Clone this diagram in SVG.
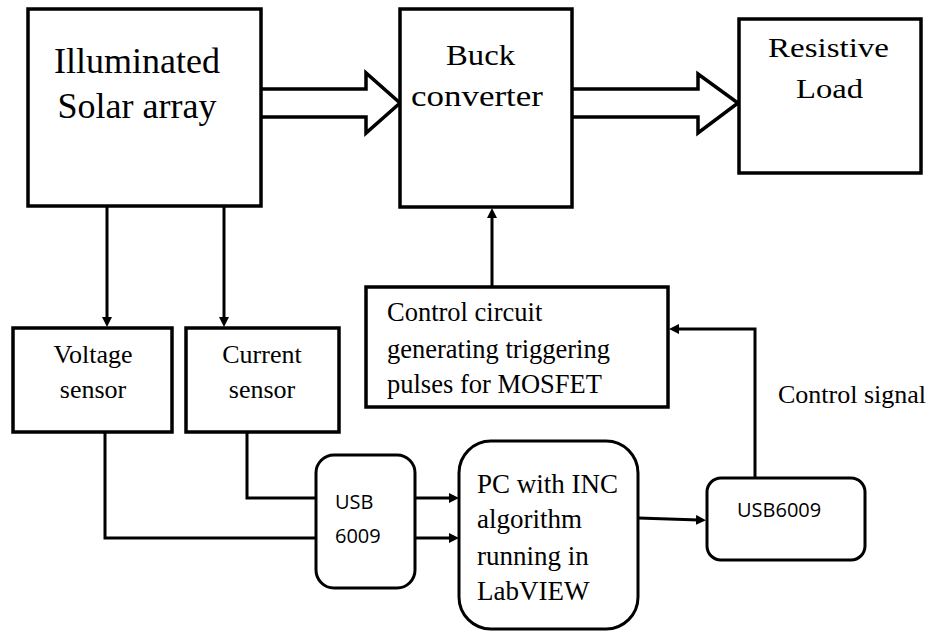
<svg xmlns="http://www.w3.org/2000/svg" width="933" height="632" viewBox="0 0 933 632">
<style>
.box{fill:#fff;stroke:#000;stroke-width:3.5}
.rbox{fill:#fff;stroke:#000;stroke-width:3}
.hollow{fill:#fff;stroke:#000;stroke-width:3.5;stroke-linejoin:miter}
.conn{fill:none;stroke:#000;stroke-width:3}
.serif{font-family:"Liberation Serif","Times New Roman",serif;fill:#000}
.sans{font-family:"Open Sans","Liberation Sans",sans-serif;fill:#000}
</style>
<defs>
<marker id="ah" markerUnits="userSpaceOnUse" markerWidth="10" markerHeight="10" refX="3" refY="5" orient="auto">
<path d="M0,0 L10,5 L0,10 Z" fill="#000"/>
</marker>
</defs>
<rect width="933" height="632" fill="#fff"/>
<g id="connectors">
<path class="hollow" d="M261,89 H366 V73 L400,103 L366,133 V117 H261"/>
<path class="hollow" d="M572,89 H698 V74 L738,103 L698,133 V117 H572"/>
<path class="conn" d="M107,206 V320" marker-end="url(#ah)"/>
<path class="conn" d="M224,206 V320" marker-end="url(#ah)"/>
<path class="conn" d="M492,287 V215" marker-end="url(#ah)"/>
<path class="conn" d="M755,478 V329 H676" marker-end="url(#ah)"/>
<path class="conn" d="M105,432 V538 H316"/>
<path class="conn" d="M247,432 V498 H316"/>
<path class="conn" d="M415,498 H452" marker-end="url(#ah)"/>
<path class="conn" d="M415,538 H452" marker-end="url(#ah)"/>
<path class="conn" d="M638,518 L699,520" marker-end="url(#ah)"/>
</g>
<g id="solar">
<rect class="box" x="28" y="9" width="233" height="197"/>
<text class="serif" font-size="36" x="137" y="73" text-anchor="middle">Illuminated</text>
<text class="serif" font-size="36" x="137" y="118" text-anchor="middle">Solar array</text>
</g>
<g id="buck">
<rect class="box" x="400" y="9" width="172" height="198"/>
<text class="serif" font-size="29" x="446" y="65" textLength="69" lengthAdjust="spacingAndGlyphs">Buck</text>
<text class="serif" font-size="29" x="411" y="106" textLength="132" lengthAdjust="spacingAndGlyphs">converter</text>
</g>
<g id="load">
<rect class="box" x="739" y="19" width="182" height="154"/>
<text class="serif" font-size="28" x="768" y="57" textLength="121" lengthAdjust="spacingAndGlyphs">Resistive</text>
<text class="serif" font-size="28" x="796" y="98" textLength="67" lengthAdjust="spacingAndGlyphs">Load</text>
</g>
<g id="voltage">
<rect class="box" x="13" y="328" width="159" height="104"/>
<text class="serif" font-size="26" x="93" y="363" text-anchor="middle">Voltage</text>
<text class="serif" font-size="26" x="93" y="398" text-anchor="middle">sensor</text>
</g>
<g id="current">
<rect class="box" x="186" y="328" width="153" height="104"/>
<text class="serif" font-size="26" x="262" y="363" text-anchor="middle">Current</text>
<text class="serif" font-size="26" x="262" y="398" text-anchor="middle">sensor</text>
</g>
<g id="control">
<rect class="box" x="366" y="287" width="302" height="120"/>
<text class="serif" font-size="26.5" x="387" y="321">Control circuit</text>
<text class="serif" font-size="26.5" x="387" y="358">generating triggering</text>
<text class="serif" font-size="26.5" x="387" y="393">pulses for MOSFET</text>
</g>
<g id="usb1">
<rect class="rbox" x="316" y="455" width="99" height="133" rx="18"/>
<text class="sans" font-size="20" x="335" y="509">USB</text>
<text class="sans" font-size="20" x="335" y="543">6009</text>
</g>
<g id="pc">
<rect class="rbox" x="459" y="441" width="179" height="188" rx="32"/>
<text class="serif" font-size="27" x="477" y="493">PC with INC</text>
<text class="serif" font-size="27" x="477" y="528">algorithm</text>
<text class="serif" font-size="27" x="477" y="565">running in</text>
<text class="serif" font-size="27" x="477" y="600">LabVIEW</text>
</g>
<g id="usb2">
<rect class="rbox" x="707" y="478" width="158" height="82" rx="14"/>
<text class="sans" font-size="20" x="737" y="517">USB6009</text>
</g>
<g id="label">
<text class="serif" font-size="26" x="778" y="403">Control signal</text>
</g>
</svg>
